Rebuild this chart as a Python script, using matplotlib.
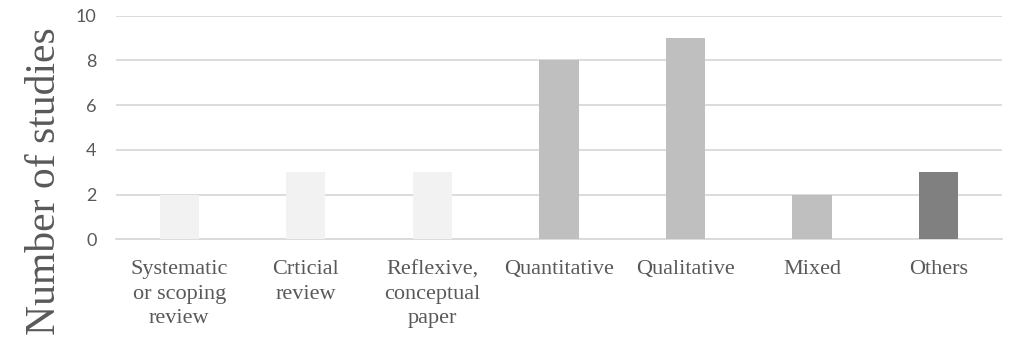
import matplotlib
matplotlib.use("Agg")
import matplotlib.pyplot as plt

plt.rcParams["font.serif"] = ["Liberation Serif", "DejaVu Serif"]
plt.rcParams["font.sans-serif"] = ["Lato", "DejaVu Sans"]

categories = ["Systematic\nor scoping\nreview", "Crticial\nreview", "Reflexive,\nconceptual\npaper",
              "Quantitative", "Qualitative", "Mixed", "Others"]
counts = [2, 3, 3, 8, 9, 2, 3]
bar_colors = ["#F2F2F2", "#F2F2F2", "#F2F2F2", "#BFBFBF", "#BFBFBF", "#BFBFBF", "#808080"]
y_ticks = [0, 2, 4, 6, 8, 10]

text_gray = "#595959"
grid_gray = "#D9D9D9"

fig = plt.figure(figsize=(10.12, 3.41), dpi=100)
ax = fig.add_axes([0.1146, 0.298, 0.8754, 0.656])

x = list(range(len(categories)))
ax.bar(x, counts, width=0.31, color=bar_colors, zorder=3)

ax.set_xlim(-0.5, len(categories) - 0.5)
ax.set_ylim(0, 10)
ax.set_yticks(y_ticks)
ax.set_yticklabels([str(v) for v in y_ticks], family="sans-serif", fontsize=13, color=text_gray)
ax.set_xticks(x)
ax.set_xticklabels([])
ax.tick_params(axis="both", length=0)
ax.tick_params(axis="y", pad=14)

# category names under each bar, in a serif face
for xi, name in zip(x, categories):
    ax.annotate(name, xy=(xi, 0), xycoords=("data", "axes fraction"),
                xytext=(0, -15), textcoords="offset points",
                ha="center", va="top", family="serif", fontsize=16,
                color=text_gray, linespacing=1.4, annotation_clip=False)

ax.yaxis.grid(True, color=grid_gray, linewidth=1.3, zorder=0)
ax.set_axisbelow(True)
for side in ["top", "right", "left"]:
    ax.spines[side].set_visible(False)
ax.spines["bottom"].set_color(grid_gray)
ax.spines["bottom"].set_linewidth(1.3)

ax.set_ylabel("Number of studies", family="serif", fontsize=30, color=text_gray)
ax.yaxis.set_label_coords(-0.059, 0.26)

fig.savefig("out.png", dpi=100, facecolor="white")
